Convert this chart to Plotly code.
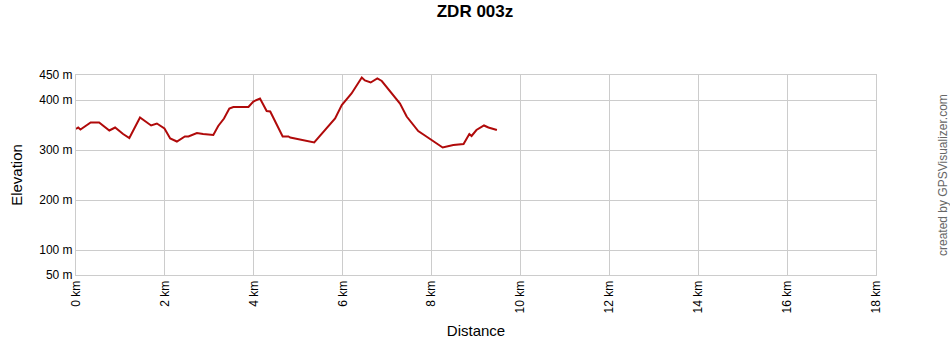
import plotly.graph_objects as go

distance_km = [0, 0.05, 0.1, 0.18, 0.33, 0.52, 0.75, 0.88, 1.06, 1.2, 1.44, 1.69, 1.82, 1.99,
               2.12, 2.27, 2.45, 2.53, 2.72, 2.86, 3.09, 3.2, 3.33, 3.45, 3.54, 3.88, 3.99,
               4.14, 4.29, 4.37, 4.65, 4.78, 4.82, 5.36, 5.6, 5.83, 5.98, 6.2, 6.43, 6.5,
               6.63, 6.78, 6.88, 7.07, 7.29, 7.44, 7.7, 7.85, 8.04, 8.25, 8.49, 8.72, 8.85,
               8.9, 9.01, 9.18, 9.28, 9.47]
elevation_m = [342, 345, 341, 346, 355, 355, 339, 345, 332, 324, 365, 349, 353, 343,
               323, 317, 327, 327, 334, 332, 330, 348, 363, 383, 386, 386, 397,
               403, 378, 377, 327, 327, 325, 315, 340, 363, 390, 413, 445, 439,
               435, 443, 438, 417, 393, 367, 338, 329, 317, 305, 310, 312, 332,
               328, 340, 349, 345, 340]

y_ticks = [50, 100, 200, 300, 400, 450]
y_labels = [f"{v} m" for v in y_ticks]
x_ticks = list(range(0, 19, 2))
x_labels = [f"{v} km" for v in x_ticks]

font = "Arial, Liberation Sans, sans-serif"
fig = go.Figure(go.Scatter(x=distance_km, y=elevation_m, mode="lines",
                           line=dict(color="#b00a0a", width=2), hoverinfo="skip"))
fig.update_layout(
    width=950, height=350,
    margin=dict(l=76, r=74, t=75, b=75, autoexpand=False),
    paper_bgcolor="white", plot_bgcolor="white",
    showlegend=False,
    font=dict(family=font, size=12, color="black"),
    title=dict(text="<b>ZDR 003z</b>", x=0.5, xanchor="center", y=0.985, yanchor="top",
               font=dict(size=17, family=font, color="black")),
    xaxis=dict(range=[0, 18], tickvals=x_ticks, ticktext=x_labels, tickangle=-90,
               showgrid=True, gridcolor="#cccccc", gridwidth=1, zeroline=False,
               showline=True, linecolor="#cccccc", mirror=True, ticks="", automargin=False,
               title=dict(text="Distance", font=dict(size=15, family=font), standoff=13)),
    yaxis=dict(range=[50, 450], tickvals=y_ticks, ticktext=y_labels,
               showgrid=True, gridcolor="#cccccc", gridwidth=1, zeroline=False,
               showline=True, linecolor="#cccccc", mirror=True, ticks="", automargin=False,
               title=dict(text="Elevation", font=dict(size=15, family=font), standoff=12)),
)
fig.add_annotation(text="created by GPSVisualizer.com", textangle=-90,
                   xref="paper", yref="paper", x=1.0, y=0.5, xshift=76,
                   showarrow=False, font=dict(size=12, color="#666666", family=font))
fig.write_html("out.html")
